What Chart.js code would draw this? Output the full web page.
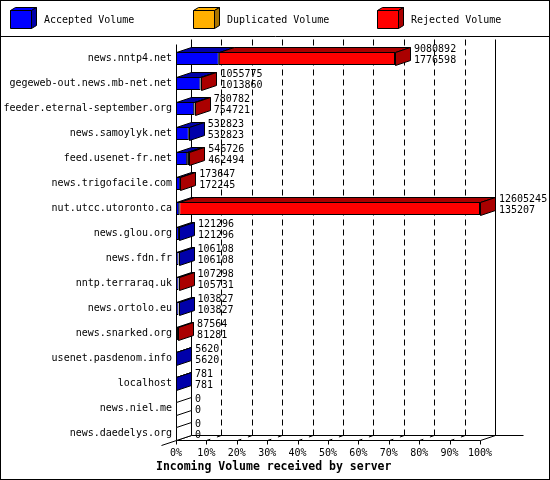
<!DOCTYPE html>
<html>
<head>
<meta charset="utf-8">
<script src="https://cdn.jsdelivr.net/npm/chart.js@4.4.1/dist/chart.umd.min.js"></script>
<style>
  html, body { margin: 0; padding: 0; background: #fff; }
  canvas { display: block; }
</style>
</head>
<body>
<canvas id="chVolume" width="550" height="480"></canvas>
<script>
// Incoming volume per server (bytes)
const servers = [
  'news.nntp4.net', 'gegeweb-out.news.mb-net.net', 'feeder.eternal-september.org',
  'news.samoylyk.net', 'feed.usenet-fr.net', 'news.trigofacile.com', 'nut.utcc.utoronto.ca',
  'news.glou.org', 'news.fdn.fr', 'nntp.terraraq.uk', 'news.ortolo.eu', 'news.snarked.org',
  'usenet.pasdenom.info', 'localhost', 'news.niel.me', 'news.daedelys.org'
];
const acceptedVolume   = [1776598, 1013860, 754721, 532823, 462494, 172245, 135207, 121296, 106108, 105731, 103827, 81281, 5620, 781, 0, 0];
const duplicatedVolume = [0, 0, 0, 0, 0, 0, 0, 0, 0, 0, 0, 0, 0, 0, 0, 0];
const rejectedVolume   = [7304294, 41915, 26061, 0, 84232, 1402, 12470038, 0, 0, 1567, 0, 6283, 0, 0, 0, 0];
const seriesNames = ['Accepted Volume', 'Duplicated Volume', 'Rejected Volume'];
const percentTicks = [0, 10, 20, 30, 40, 50, 60, 70, 80, 90, 100];
const tickLabels = ['0%', '10%', '20%', '30%', '40%', '50%', '60%', '70%', '80%', '90%', '100%'];
const axisTitle = 'Incoming Volume received by server';

const series = [acceptedVolume, duplicatedVolume, rejectedVolume];
const totals = servers.map((_, i) => acceptedVolume[i] + duplicatedVolume[i] + rejectedVolume[i]);
const maxVol = Math.max(...totals);

const FRONT = ['#0000ff', '#ffb000', '#ff0000'];
const SHADE = ['#0000aa', '#aa7500', '#aa0000'];
const DX = 15, DY = -5;          // depth of the fake 3d
const MONO = '"DejaVu Sans Mono", "Liberation Mono", monospace';

const px = v => Math.round(v) + 0.5;

function poly(ctx, pts, fill) {
  ctx.beginPath();
  pts.forEach(([x, y], k) => k ? ctx.lineTo(px(x), px(y)) : ctx.moveTo(px(x), px(y)));
  ctx.closePath();
  if (fill) { ctx.fillStyle = fill; ctx.fill(); }
  ctx.stroke();
}
function line(ctx, x1, y1, x2, y2, dash) {
  ctx.setLineDash(dash || []);
  ctx.beginPath(); ctx.moveTo(px(x1), px(y1)); ctx.lineTo(px(x2), px(y2)); ctx.stroke();
  ctx.setLineDash([]);
}

const threeD = {
  id: 'threeD',
  beforeDraw(chart) {
    const { ctx, width, height } = chart;
    ctx.save();
    ctx.fillStyle = '#fff'; ctx.fillRect(0, 0, width, height);
    ctx.strokeStyle = '#000'; ctx.lineWidth = 1;
    ctx.strokeRect(0.5, 0.5, width - 1, height - 1);
    line(ctx, 0, 36, width, 36);
    // legend cubes
    const legendX = [10, 193, 377];
    ctx.font = '10px ' + MONO; ctx.textBaseline = 'middle'; ctx.textAlign = 'left';
    seriesNames.forEach((name, k) => {
      const x = legendX[k], y = 10, w = 21, h = 18, dx = 5, dy = -3;
      poly(ctx, [[x, y], [x + dx, y + dy], [x + w + dx, y + dy], [x + w, y]], FRONT[k]);
      poly(ctx, [[x + w, y], [x + w + dx, y + dy], [x + w + dx, y + h + dy], [x + w, y + h]], SHADE[k]);
      poly(ctx, [[x, y], [x + w, y], [x + w, y + h], [x, y + h]], FRONT[k]);
      ctx.fillStyle = '#000';
      ctx.fillText(name, x + 34, 20);
    });
    ctx.restore();
  },
  beforeDatasetsDraw(chart) {
    const { ctx, chartArea: area } = chart;
    const xs = chart.scales.x;
    const meta = chart.getDatasetMeta(0);
    const last = meta.data[meta.data.length - 1];
    const floorF = last.y + last.height / 2, floorB = floorF + DY;
    const topF = area.top - 2, topB = topF + DY;
    const x0 = xs.getPixelForValue(0), x1 = xs.getPixelForValue(maxVol);
    ctx.save();
    ctx.strokeStyle = '#000'; ctx.lineWidth = 1;
    // back wall + grid
    line(ctx, x0 + DX, topB, x0 + DX, floorB);
    line(ctx, x1 + DX, topB, x1 + DX, floorB);
    xs.ticks.forEach(t => {
      const x = xs.getPixelForValue(t.value);
      if (t.value > 0 && t.value < maxVol) {
        line(ctx, x + DX, topB, x + DX, floorB, [6, 4]);
        line(ctx, x, floorF, x + DX, floorB, [4, 7]);
      }
      line(ctx, x, floorF, x, floorF + 4);
    });
    // floor
    line(ctx, x0 + DX, floorB, x1 + DX + 28, floorB);
    line(ctx, x0, floorF, x1, floorF);
    line(ctx, x1, floorF, x1 + DX, floorB);
    line(ctx, x0 - DX, floorF - DY, x0 + DX, floorB);
    // front left axis
    line(ctx, x0, topF, x0, floorF);
    ctx.restore();
  },
  afterDatasetsDraw(chart) {
    const { ctx } = chart;
    const x0 = chart.scales.x.getPixelForValue(0);
    const metas = series.map((_, k) => chart.getDatasetMeta(k));
    ctx.save();
    ctx.strokeStyle = '#000'; ctx.lineWidth = 1;
    servers.forEach((_, i) => {
      let endX = x0, endFill = '#fff', top = 0, bot = 0, yc = 0;
      series.forEach((vals, k) => {
        const el = metas[k].data[i];
        top = el.y - el.height / 2; bot = el.y + el.height / 2; yc = el.y;
        if (!(vals[i] > 0)) return;
        const l = Math.min(el.base, el.x), r = Math.max(el.base, el.x);
        poly(ctx, [[l, top], [l + DX, top + DY], [r + DX, top + DY], [r, top]], SHADE[k]);
        endX = r; endFill = SHADE[k];
      });
      poly(ctx, [[endX, top], [endX + DX, top + DY], [endX + DX, bot + DY], [endX, bot]], endFill);
      ctx.fillStyle = '#000';
      ctx.font = '10px ' + MONO; ctx.textBaseline = 'middle'; ctx.textAlign = 'left';
      ctx.fillText(String(totals[i]), endX + DX + 4, yc - 9);
      ctx.fillText(String(acceptedVolume[i]), endX + DX + 4, yc + 1.5);
    });
    ctx.restore();
  },
  afterDraw(chart) {
    const { ctx } = chart;
    ctx.save();
    ctx.fillStyle = '#000';
    ctx.font = 'bold 11.5px ' + MONO; ctx.textBaseline = 'middle'; ctx.textAlign = 'left';
    ctx.fillText(axisTitle, 156, 467);
    ctx.restore();
  }
};

new Chart(document.getElementById('chVolume'), {
  type: 'bar',
  data: {
    labels: servers,
    datasets: seriesNames.map((name, k) => ({
      label: name, data: series[k], backgroundColor: FRONT[k], borderColor: '#000',
      borderWidth: 1, borderSkipped: false, barThickness: 13, inflateAmount: 0
    }))
  },
  options: {
    indexAxis: 'y', responsive: false, animation: false, devicePixelRatio: 1,
    layout: { padding: { top: 46, right: 70, left: 0, bottom: 0 } },
    plugins: { legend: { display: false }, tooltip: { enabled: false } },
    scales: {
      x: {
        stacked: true, min: 0, max: maxVol,
        grid: { display: false, drawTicks: false }, border: { display: false },
        afterBuildTicks: s => { s.ticks = percentTicks.map(p => ({ value: maxVol * p / 100 })); },
        afterFit: s => { s.height = 34; },
        ticks: { callback: (v, idx) => tickLabels[idx], font: { family: MONO, size: 10 }, color: '#000',
                 padding: 1, maxRotation: 0, autoSkip: false }
      },
      y: {
        stacked: true,
        grid: { display: false, drawTicks: false }, border: { display: false },
        afterFit: s => { s.width = 176; },
        ticks: { font: { family: MONO, size: 10 }, color: '#000', padding: 4, autoSkip: false }
      }
    }
  },
  plugins: [threeD]
});
</script>
</body>
</html>
